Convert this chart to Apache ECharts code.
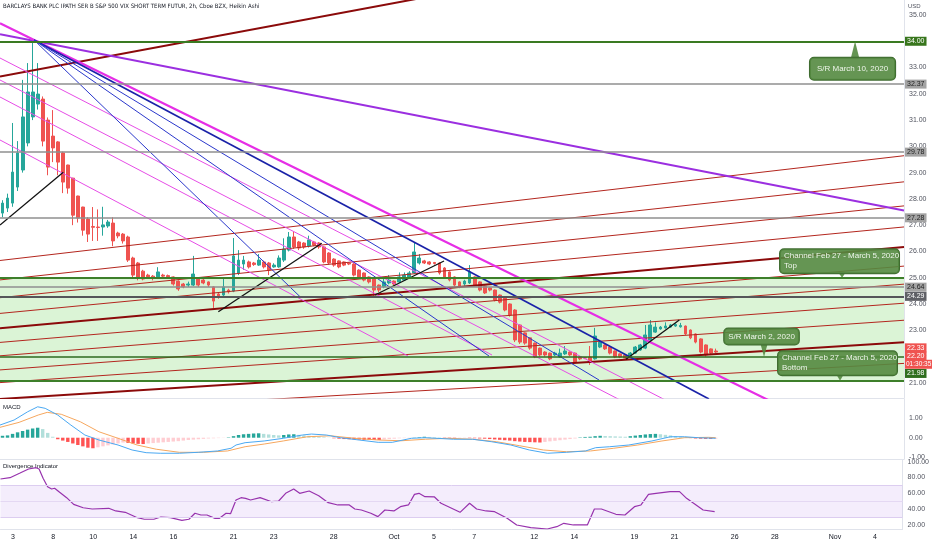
<!DOCTYPE html>
<html><head><meta charset="utf-8">
<script src="https://cdn.jsdelivr.net/npm/echarts@6/dist/echarts.min.js"></script>
<style>html,body{margin:0;padding:0;background:#fff}#c{width:932px;height:550px}</style>
</head><body><div id="c"></div>
<script>
// ---------------- DATA ----------------
const titleText = 'BARCLAYS BANK PLC IPATH SER B S&P 500 VIX SHORT TERM FUTUR, 2h, Cboe BZX, Heikin Ashi';
const tradingDays = ['09-02','09-03','09-04','09-08','09-09','09-10','09-11','09-14','09-15','09-16','09-17','09-18','09-21','09-22','09-23','09-24','09-25','09-28','09-29','09-30',
  '10-01','10-02','10-05','10-06','10-07','10-08','10-09','10-12','10-13','10-14','10-15','10-16','10-19','10-20','10-21','10-22','10-23','10-26','10-27','10-28','10-29','10-30',
  '11-02','11-03','11-04','11-05'];
const sessions = ['09:30','11:30','13:30','15:30'];
const dateTicks = [['09-03','3'],['09-08','8'],['09-10','10'],['09-14','14'],['09-16','16'],['09-21','21'],['09-23','23'],['09-28','28'],['10-01','Oct'],['10-05','5'],['10-07','7'],['10-12','12'],['10-14','14'],['10-19','19'],['10-21','21'],['10-26','26'],['10-28','28'],['11-02','Nov'],['11-04','4']];
const priceTicks = [21,22,23,24,25,26,27,28,29,30,31,32,33,34,35];
const macdTicks = [1,0,-1];
const divTicks = [20,40,60,80,100];

// Heikin Ashi candles [open, close, low, high], first bar = Sep 2 13:30
const candles = [
[27.46,27.84,27.30,27.95],[27.65,28.03,27.50,28.20],[27.84,29.02,27.70,30.89],[28.45,29.75,28.30,30.20],[29.10,31.12,29.00,32.53],
[30.13,32.07,30.00,33.17],[31.12,32.07,31.00,34.00],[31.61,31.99,31.40,33.17],[31.80,30.20,30.00,31.90],[31.00,29.21,28.90,31.10],
[30.39,29.94,29.40,31.38],[30.17,29.40,28.90,30.20],[29.75,28.64,28.22,29.80],[29.29,28.41,28.20,29.30],[28.79,27.38,27.00,28.80],
[28.11,27.27,27.10,28.12],[27.69,26.81,26.60,27.70],[27.23,26.66,26.36,27.30],[26.95,26.92,26.40,27.69],[26.93,26.91,26.40,27.60],
[26.93,27.01,26.60,27.70],[26.97,27.12,26.90,27.20],[27.08,26.40,26.20,27.30],[26.70,26.59,26.50,26.75],[26.66,26.40,26.30,26.70],
[26.55,25.67,25.60,26.60],[25.75,25.10,24.99,25.80],[25.56,24.99,24.90,25.60],[25.25,24.95,24.90,25.30],[25.10,25.03,24.95,25.15],
[25.06,24.99,24.90,25.10],[25.03,25.22,24.95,25.40],[25.10,25.06,25.00,25.15],[25.08,25.03,24.98,25.12],[25.03,24.76,24.70,25.05],
[24.87,24.57,24.50,24.90],[24.76,24.65,24.60,24.80],[24.72,24.76,24.65,24.85],[24.72,25.14,24.68,25.83],[24.99,24.72,24.65,25.02],
[24.91,24.80,24.75,24.95],[24.84,24.72,24.65,24.86],[24.65,24.11,23.85,24.68],[24.38,24.27,24.20,24.42],[24.34,24.65,24.30,24.95],
[24.53,24.46,24.40,24.58],[24.49,25.83,24.45,26.51],[25.18,25.67,25.10,26.05],[25.52,25.67,25.30,25.83],[25.60,25.41,25.35,25.65],
[25.56,25.50,25.45,25.60],[25.48,25.67,25.45,25.90],[25.60,25.41,25.35,25.65],[25.56,25.29,25.10,25.60],[25.41,25.48,25.38,25.55],
[25.41,25.75,25.38,25.85],[25.67,26.09,25.60,26.50],[26.05,26.55,26.00,26.74],[26.55,26.17,26.10,26.74],[26.36,26.13,26.05,26.40],
[26.32,26.17,26.10,26.35],[26.21,26.44,26.15,26.60],[26.36,26.24,26.20,26.40],[26.32,26.17,26.10,26.35],[26.17,25.60,25.55,26.20],
[25.94,25.56,25.50,25.97],[25.71,25.48,25.42,25.74],[25.64,25.41,25.36,25.66],[25.60,25.48,25.44,25.62],[25.56,25.52,25.48,25.58],
[25.52,25.10,25.05,25.55],[25.29,25.03,24.98,25.32],[25.18,24.91,24.86,25.20],[25.03,24.84,24.78,25.05],[24.99,24.53,24.30,25.00],
[24.72,24.53,24.45,24.74],[24.65,24.84,24.60,24.95],[24.80,24.91,24.75,25.10],[24.87,24.76,24.70,24.90],[24.84,25.03,24.80,25.20],
[24.91,25.10,24.88,25.20],[24.99,25.18,24.95,25.25],[25.18,25.98,25.15,26.32],[25.56,25.75,25.50,25.90],[25.64,25.56,25.52,25.68],
[25.60,25.52,25.48,25.63],[25.58,25.54,25.50,25.60],[25.56,25.18,25.12,25.58],[25.37,25.03,24.98,25.40],[25.22,24.91,24.86,25.24],
[25.03,24.72,24.66,25.05],[24.84,24.65,24.60,24.86],[24.76,24.87,24.70,24.92],[24.80,25.22,24.76,25.48],[25.03,24.72,24.68,25.05],
[24.84,24.53,24.48,24.86],[24.68,24.42,24.38,24.70],[24.61,24.53,24.48,24.63],[24.53,24.15,24.10,24.55],[24.34,24.07,24.02,24.36],
[24.23,23.77,23.72,24.25],[24.00,23.58,23.52,24.02],[23.77,22.63,22.55,23.80],[23.20,22.55,22.48,23.22],[22.90,22.51,22.45,22.92],
[22.71,22.32,22.26,22.73],[22.51,21.98,21.94,22.53],[22.32,22.06,22.00,22.34],[22.17,22.06,22.00,22.20],[22.13,21.91,21.86,22.15],
[22.06,22.13,22.02,22.18],[21.98,22.13,21.95,22.30],[22.10,22.21,22.06,22.40],[22.17,22.06,22.02,22.19],[22.13,21.79,21.74,22.15],
[21.98,21.91,21.86,22.00],[21.96,21.94,21.90,21.98],[21.98,21.79,21.68,22.40],[21.91,22.78,21.88,23.09],[22.36,22.55,22.32,22.62],
[22.44,22.29,22.25,22.47],[22.36,22.13,22.08,22.38],[22.21,21.98,21.94,22.23],[22.10,21.98,21.94,22.12],[22.06,21.94,21.90,22.08],
[21.98,22.13,21.95,22.17],[22.13,22.36,22.10,22.40],[22.25,22.44,22.22,22.48],[22.32,22.82,22.28,23.20],[22.63,23.20,22.60,23.39],
[22.93,23.12,22.90,23.30],[23.05,23.12,23.02,23.16],[23.09,23.16,23.06,23.30],[23.12,23.20,23.10,23.24],[23.16,23.22,23.13,23.26],
[23.13,23.18,23.10,23.28],[23.16,22.86,22.82,23.18],[23.01,22.71,22.66,23.03],[22.86,22.55,22.50,22.88],[22.67,22.17,22.12,22.69],
[22.44,22.06,22.00,22.46],[22.29,22.13,22.08,22.31],[22.21,22.17,22.12,22.30]
];

// MACD histogram per bar (same bars as candles)
const macdHist = [0.10,0.12,0.20,0.28,0.35,0.42,0.48,0.52,0.45,0.25,0.05,-0.08,-0.15,-0.22,-0.30,-0.38,-0.45,-0.52,-0.55,-0.50,
-0.45,-0.40,-0.35,-0.30,-0.25,-0.27,-0.30,-0.32,-0.33,-0.30,-0.28,-0.26,-0.24,-0.22,-0.20,-0.18,-0.15,-0.12,-0.10,-0.08,
-0.06,-0.04,-0.03,-0.02,-0.01,0.02,0.08,0.14,0.18,0.20,0.22,0.23,0.20,0.17,0.14,0.12,0.14,0.17,0.18,0.15,
0.12,0.10,0.08,0.06,0.03,0.01,-0.03,-0.05,-0.07,-0.08,-0.09,-0.10,-0.11,-0.11,-0.12,-0.12,-0.09,-0.07,-0.05,-0.03,
-0.02,-0.01,0.01,0.03,0.05,0.04,0.03,0.02,-0.02,-0.03,-0.04,-0.03,-0.02,-0.02,-0.03,-0.04,-0.05,-0.07,-0.09,-0.11,
-0.13,-0.15,-0.18,-0.20,-0.22,-0.23,-0.24,-0.25,-0.22,-0.19,-0.16,-0.13,-0.10,-0.07,-0.04,0.02,0.04,0.05,0.08,0.10,
0.09,0.08,0.07,0.06,0.05,0.08,0.11,0.14,0.17,0.19,0.20,0.18,0.15,0.12,0.09,0.06,0.03,-0.02,-0.04,-0.05,-0.06,-0.06,-0.05];

// MACD / signal readings [bar position, value]
const macdLine = [[-2.5,0.66],[0.3,0.92],[3,1.35],[5,1.61],[6.5,1.53],[9,1.18],[11.6,0.66],[14.4,0.14],[17.2,-0.12],[21,-0.38],[23.8,-0.64],[26.6,-0.78],[29.4,-0.81],[33.2,-0.81],[37,-0.76],[40.8,-0.69],[43.5,-0.55],[44.5,-0.38],[46.3,-0.26],[50.1,-0.17],[53.9,-0.03],[57.7,0.14],[59.5,0.19],[62.5,0.14],[65.3,0],[69,-0.12],[72.8,-0.24],[75.6,-0.24],[79.4,-0.03],[82.2,0],[87.8,-0.08],[91.6,-0.08],[95.4,-0.21],[99.2,-0.38],[102.9,-0.64],[106.5,-0.81],[110.3,-0.76],[114.1,-0.69],[116.1,-0.52],[118.9,-0.47],[122.7,-0.38],[127.3,-0.17],[131,0.05],[133.8,0.05],[136.6,0],[140,-0.03]];
const signalLine = [[-2.5,0.54],[1.3,0.80],[5.1,1.18],[6.9,1.32],[9.7,1.22],[13.5,0.83],[17.2,0.31],[21,-0.03],[24.8,-0.38],[28.6,-0.60],[33.2,-0.76],[38,-0.76],[42.8,-0.69],[46.3,-0.47],[50.1,-0.33],[53.9,-0.17],[58.7,0.05],[63.3,0.10],[68.1,-0.03],[72.8,-0.12],[77.4,-0.16],[82.2,-0.08],[86.8,-0.03],[91.6,-0.08],[96.4,-0.21],[101,-0.42],[105.7,-0.64],[110.3,-0.73],[115.1,-0.69],[119.7,-0.55],[124.5,-0.38],[129.3,-0.17],[133.8,0],[138.6,0.02],[140,0]];
const divLine = [[-2.5,78.1],[-0.6,79.8],[1.3,85.3],[3.1,90.8],[4.6,92.4],[5.2,90.8],[6,79.0],[6.9,68.4],[7.7,65.5],[8.3,66.4],[9.3,61.3],[10.7,54.5],[12.1,46.1],[14,41.8],[15.8,40.2],[19.1,41.1],[20.5,37.7],[22.4,36.0],[24.8,29.2],[26.2,27.2],[28.1,27.2],[29.5,30.1],[31.4,29.2],[33.7,25.9],[35.1,27.2],[36.3,34.8],[37.5,32.6],[38.7,32.6],[40.3,28.4],[41.2,28.4],[42.5,34.8],[43.4,34.3],[44.5,51.6],[45.5,54.5],[46.4,53.7],[47.4,51.6],[49.3,54.5],[51.6,49.4],[53,50.3],[54.4,60.0],[56,65.5],[57.2,60.0],[59.1,62.9],[61,57.0],[62.9,48.2],[64.8,45.3],[67.1,45.3],[68.2,40.2],[69.5,38.9],[71.4,34.8],[72.8,30.5],[74.2,38.9],[76,37.7],[77.3,43.1],[78.9,45.3],[80.1,58.7],[81,60.0],[82.2,55.8],[84.1,55.4],[85.4,47.4],[87.3,41.8],[89.2,36.0],[91.1,47.4],[92.5,40.2],[94.4,37.7],[96.1,36.8],[98.6,28.4],[100.5,20.0],[103.3,16.6],[106.6,14.9],[108.5,17.8],[109.9,22.1],[111.8,20.0],[114.6,20.0],[116,40.2],[117.4,40.2],[120.3,33.5],[122.1,32.6],[124,43.1],[125.3,45.3],[126.8,58.7],[128.3,60.0],[131.1,62.1],[133,62.1],[134.4,53.7],[135.8,47.4],[137.7,38.9],[140,36.8]];

// Drawings: [bar1, price1, bar2, price2]
const fanLines = [[-2.5,32.655,177.5,39.075],[-2.5,25.655,177.5,29.644],[-2.5,24.916,177.5,28.650],[-2.5,24.239,177.5,27.734],[-2.5,23.641,177.5,26.932],[-2.5,23.074,177.5,26.169],[-2.5,22.537,177.5,25.442],[-2.5,22.027,177.5,24.755],[-2.5,21.490,177.5,24.030],[-2.5,21.007,177.5,23.381],[-2.5,20.383,177.5,22.540],[-2.5,19.789,177.5,21.739]];
const magentaLines = [[-2.5,34.684,177.5,17.809],[-2.5,33.363,177.5,15.674],[-2.5,32.526,177.5,14.768],[-2.5,31.879,95.47,22.057],[-2.5,30.242,78.74,22.020]];
const blueLines = [[4.27,34.05,138.67,20.383],[4.27,34.05,116.77,21.106],[4.27,34.05,94.87,22.019],[4.27,34.05,57.24,24.277]];
const blackLines = [[-2.5,27.006,10.10,29.012],[40.97,23.706,61.56,26.309],[72.17,24.341,85.91,25.636],[122.15,21.894,132.76,23.39]];
const purpleLine = [-2.5,34.269,177.5,27.560];
const srLevels = [34.00, 21.98];
const greyLevels = [32.37, 29.78, 27.28, 24.64];
const darkLevel = 24.29;
const channelLevels = [25.00, 21.08];
const prevMark = 22.33, lastPrice = 22.20, countdown = '01:30:35';
const calloutText = ['S/R March 10, 2020', 'Channel Feb 27 - March 5, 2020', 'S/R March 2, 2020', 'Channel Feb 27 - March 5, 2020'];
const calloutSub = ['', 'Top', '', 'Bottom'];
const calloutAt = [[167.75,34.00],[165.16,25.00],[149.63,21.98],[164.76,21.08]];

// ---------------- BUILD ----------------
const categories = [];
tradingDays.forEach(d => sessions.forEach(s => categories.push(d + ' ' + s)));
const cats = categories.slice(2, 182);
const tickMap = {}; dateTicks.forEach(t => tickMap[t[0] + ' 09:30'] = t[1]);

const FONT = "'Liberation Sans', Arial, sans-serif";
const AX = '#e0e3eb';
const LBL = '#50535e';
const xMin = -2.5, xMax = 177.5;

function catAxis(grid, showLabel) {
  return {type:'category', gridIndex:grid, data:cats, boundaryGap:true,
    axisLine:{show:true, onZero:false, lineStyle:{color:AX}}, axisTick:{show:false},
    axisLabel: showLabel ? {show:true, interval:0, fontSize:7, color:'#131722', margin:5, fontFamily:FONT,
      formatter: v => tickMap[v] || ''} : {show:false},
    splitLine:{show:false}};
}
function valAxis(grid) {
  return {type:'value', gridIndex:grid, min:xMin, max:xMax, show:false, axisLine:{show:false, onZero:false}};
}
function yAx(grid, min, max, split, ticks) {
  return {type:'value', gridIndex:grid, position:'right', min, max, splitNumber:split,
    axisLine:{show:true, onZero:false, lineStyle:{color:AX}}, axisTick:{show:false}, splitLine:{show:false},
    axisLabel:{show:true, fontSize:7, color:LBL, margin:5, fontFamily:FONT, showMinLabel:false, showMaxLabel:false,
      formatter: v => ticks.some(t => Math.abs(t - v) < 1e-6) ? v.toFixed(2) : ''}};
}
function seg(a, color, width, z) {
  return {type:'line', xAxisIndex:1, yAxisIndex:0, data:[[a[0],a[1]],[a[2],a[3]]], symbol:'none',
    lineStyle:{color, width}, silent:true, z: z || 3, animation:false};
}
function pill(v, bg, fg, text, dy, lineColor, lineWidth) {
  return {yAxis:v, lineStyle:{color:lineColor || 'rgba(0,0,0,0)', width:lineWidth || 1, type:'solid'},
    label:{show:true, position:'end', distance:1, formatter:text || v.toFixed(2), backgroundColor:bg, color:fg,
      padding:[1,2,1,2], fontSize:7, fontFamily:FONT, offset:[0, dy || 0]}};
}

const histCol = macdHist.map((v, i) => {
  const p = i ? macdHist[i-1] : v;
  if (v >= 0) return v >= p ? '#26a69a' : '#b2dfdb';
  return v <= p ? '#ff5252' : '#ffcdd2';
});

const boxBg = 'rgba(84,138,64,0.9)', boxBorder = '#3f6b30', boxFg = '#eef5ea';
const calloutPoints = [];
calloutAt.forEach((c, i) => {
  const below = i === 0;
  const dist = [16, 4, 12, 5][i];
  const fmt = calloutSub[i] ? '{a|' + calloutText[i] + '}\n{a|' + calloutSub[i] + '}' : calloutText[i];
  calloutPoints.push({coord:c, symbol:'circle', symbolSize:1, itemStyle:{color:'rgba(0,0,0,0)'},
    label:{show:true, position: below ? 'bottom' : 'top', distance:dist, offset:[-2.5,0], formatter:fmt,
      backgroundColor:boxBg, borderColor:boxBorder, borderWidth:1, borderRadius:4,
      padding: i === 0 ? [6,7,6,7] : (calloutSub[i] ? [2,4,2,4] : [3,4,3,4]),
      color:boxFg, fontSize:8, lineHeight:10, fontFamily:FONT,
      rich:{a:{width:111, align:'left', color:boxFg, fontSize:8, lineHeight:10, fontFamily:FONT}}}});
  if (below) {
    calloutPoints.push({coord:c, symbol:'triangle', symbolSize:[8,dist], symbolOffset:[0,dist/2],
      itemStyle:{color:boxBg}, label:{show:false}});
  } else {
    calloutPoints.push({coord:c, symbol:'triangle', symbolRotate:180, symbolSize:[7,dist+1], symbolOffset:[0,-(dist+1)/2],
      itemStyle:{color:boxBg}, label:{show:false}});
  }
});

const series = [];
// channel fill
series.push({type:'line', xAxisIndex:1, yAxisIndex:0, data:[], z:1, silent:true,
  markArea:{silent:true, itemStyle:{color:'rgba(90,205,70,0.22)'}, data:[[{yAxis:channelLevels[0]},{yAxis:channelLevels[1]}]]}});
// candles
series.push({type:'candlestick', xAxisIndex:0, yAxisIndex:0, data:candles, barWidth:'66%', z:2,
  itemStyle:{color:'#26a69a', color0:'#ef5350', borderColor:'#26a69a', borderColor0:'#ef5350', borderWidth:1}});
// fan lines
fanLines.forEach((l, i) => {
  const heavy = i === 0 || i === 5 || i === 10;
  series.push(seg(l, heavy ? '#8b0a0a' : '#b3261e', heavy ? 2 : 1));
});
series.push(seg(purpleLine, '#9b2fe0', 2));
magentaLines.forEach((l, i) => series.push(seg(l, i === 0 ? '#e62ee6' : '#e64ce6', i === 0 ? 2.2 : 1)));
blueLines.forEach((l, i) => series.push(seg(l, i === 0 ? '#1a22a8' : '#2b38cc', i === 0 ? 1.7 : 1)));
blackLines.forEach(l => series.push(seg(l, '#111111', 1.3)));
// horizontal levels with price pills
series.push({type:'line', xAxisIndex:1, yAxisIndex:0, data:[], z:4, silent:true,
  markLine:{silent:true, symbol:['none','none'], animation:false, data:[
    {yAxis:channelLevels[0], lineStyle:{color:'#3d7f2a', width:2, type:'solid'}, label:{show:false}},
    {yAxis:channelLevels[1], lineStyle:{color:'#3d7f2a', width:2, type:'solid'}, label:{show:false}},
    pill(srLevels[0], '#38761d', '#ffffff', null, 0, '#3a7a22', 2),
    ...greyLevels.map(v => pill(v, '#a3a3a3', '#1e1e1e', null, 0, '#8f8f8f', 1.6)),
    pill(darkLevel, '#5f6066', '#ffffff', null, 0, '#555659', 2),
    pill(srLevels[1], '#2f6e1f', '#ffffff', null, 16.4, '#2e6b1f', 1.5),
    pill(prevMark, '#ef5350', '#ffffff', null, 0),
    pill(lastPrice, '#ef5350', '#ffffff', null, 4.8),
    {yAxis:lastPrice, lineStyle:{color:'rgba(0,0,0,0)', width:1},
      label:{show:true, position:'end', distance:1, formatter:countdown, backgroundColor:'#ef5350', color:'#ffffff',
        padding:[1,1,1,1], fontSize:6.5, fontFamily:FONT, offset:[0,13]}}
  ]},
  markPoint:{silent:true, animation:false, data:calloutPoints}});

// MACD pane
series.push({type:'bar', xAxisIndex:2, yAxisIndex:1, barWidth:3.4,
  data: macdHist.map((v, i) => ({value:v, itemStyle:{color:histCol[i]}})), silent:true});
series.push({type:'line', xAxisIndex:3, yAxisIndex:1, data:signalLine, symbol:'none', lineStyle:{color:'#f6a75e', width:1}, silent:true});
series.push({type:'line', xAxisIndex:3, yAxisIndex:1, data:macdLine, symbol:'none', lineStyle:{color:'#4aa8f2', width:1}, silent:true});
// Divergence pane
series.push({type:'line', xAxisIndex:5, yAxisIndex:2, data:divLine, symbol:'none', lineStyle:{color:'#9732ad', width:1.2}, silent:true,
  markArea:{silent:true, itemStyle:{color:'rgba(150,80,230,0.10)'}, data:[[{yAxis:70},{yAxis:30}]]},
  markLine:{silent:true, symbol:['none','none'], label:{show:false}, animation:false,
    data:[{yAxis:70, lineStyle:{color:'#dccdf0', width:1, type:'solid'}},{yAxis:50, lineStyle:{color:'#e4d8f3', width:1, type:'solid'}},{yAxis:30, lineStyle:{color:'#dccdf0', width:1, type:'solid'}}]}});

const chart = echarts.init(document.getElementById('c'), null, {renderer:'canvas'});
chart.setOption({
  animation:false, backgroundColor:'#ffffff',
  textStyle:{fontFamily:FONT},
  grid:[{left:0, right:28, top:0, height:398},{left:0, right:28, top:399, height:60},{left:0, right:28, top:460, height:69}],
  xAxis:[catAxis(0,false), valAxis(0), catAxis(1,false), valAxis(1), catAxis(2,true), valAxis(2)],
  yAxis:[yAx(0, 20.421, 35.571, 15, priceTicks), yAx(1, -1.109, 2.016, 3, macdTicks), yAx(2, 14.9, 102.15, 4, divTicks)],
  graphic:[
    {type:'text', left:3, top:3, style:{text:titleText, fontSize:6, fill:'#131722', fontFamily:"'Liberation Sans Narrow','DejaVu Sans Condensed',Arial,sans-serif"}},
    {type:'text', left:908, top:3, style:{text:'USD', fontSize:6, fill:LBL, fontFamily:FONT}},
    {type:'text', left:3, top:404, style:{text:'MACD', fontSize:6, fill:'#131722', fontFamily:FONT}},
    {type:'text', left:3, top:463, style:{text:'Divergence Indicator', fontSize:6, fill:'#131722', fontFamily:FONT}}
  ],
  series
});
</script></body></html>
